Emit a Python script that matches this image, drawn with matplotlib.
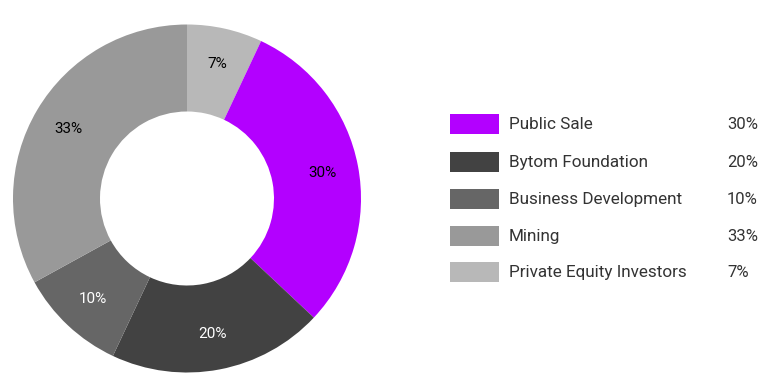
import matplotlib
matplotlib.use("Agg")
import matplotlib.pyplot as plt
import matplotlib.patches as mpatches
import numpy as np

plt.rcParams['font.family'] = ['Roboto', 'DejaVu Sans']

# Data (clockwise order from 12 o'clock)
pie_labels = ["Private Equity Investors", "Public Sale", "Bytom Foundation",
              "Business Development", "Mining"]
pie_values = [7, 30, 20, 10, 33]
pie_colors = ["#b8b8b8", "#b300ff", "#424242", "#666666", "#999999"]
pie_text_colors = ["#000000", "#000000", "#ffffff", "#ffffff", "#000000"]

legend_labels = ["Public Sale", "Bytom Foundation", "Business Development",
                 "Mining", "Private Equity Investors"]
legend_values = ["30%", "20%", "10%", "33%", "7%"]
legend_colors = ["#b300ff", "#424242", "#666666", "#999999", "#b8b8b8"]

W, H = 780, 384
fig = plt.figure(figsize=(W / 100, H / 100), dpi=100)

# Pie axes: center (187, 199) px, radius 174 px
cx, cy, R = 187, 198.5, 174
ax = fig.add_axes([(cx - R) / W, (H - cy - R) / H, 2 * R / W, 2 * R / H])
wedges, _ = ax.pie(pie_values, colors=pie_colors, startangle=90, counterclock=False,
                   radius=1.0, wedgeprops=dict(width=0.5, linewidth=0))
ax.set_xlim(-1, 1)
ax.set_ylim(-1, 1)
ax.set_aspect('equal')
ax.axis('off')

total = sum(pie_values)
cum = 0
for v, tc in zip(pie_values, pie_text_colors):
    mid = (cum + v / 2) / total * 2 * np.pi
    cum += v
    r = 0.79
    x = r * np.sin(mid)
    y = r * np.cos(mid)
    ax.text(x, y, f"{v}%", ha='center', va='center', fontsize=11,
            color=tc, fontweight='normal')

# Legend overlay in pixel coordinates
lax = fig.add_axes([0, 0, 1, 1])
lax.set_xlim(0, W)
lax.set_ylim(H, 0)
lax.axis('off')
row_y = [124, 161.7, 199, 235.7, 272]
for y, lab, val, col in zip(row_y, legend_labels, legend_values, legend_colors):
    lax.add_patch(mpatches.Rectangle((450, y - 10), 49, 20, facecolor=col,
                                     edgecolor='none'))
    lax.text(509, y + 0.5, lab, ha='left', va='center', fontsize=12.3,
             color='#333333', fontweight='normal')
    lax.text(727, y + 0.5, val, ha='left', va='center', fontsize=12,
             color='#333333', fontweight='normal')

fig.savefig("out.png", dpi=100)
